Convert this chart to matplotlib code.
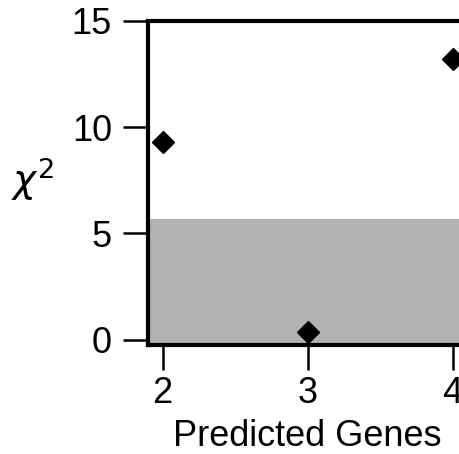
import matplotlib
matplotlib.use("Agg")
import matplotlib.pyplot as plt

genes = [2, 3, 4]
chi2 = [9.3, 0.38, 13.2]
threshold = 5.7
yticks = [0, 5, 10, 15]

plt.rcParams['font.family'] = ['Liberation Sans', 'DejaVu Sans']
plt.rcParams['mathtext.fontset'] = 'dejavusans'

fig = plt.figure(figsize=(4.59, 4.54), dpi=100)
W, H = 459, 454
left, right = 148, 467
top, bottom = 21, 345
ax = fig.add_axes([left / W, 1 - bottom / H, (right - left) / W, (bottom - top) / H])

ax.set_xlim(1.9, 4.1)
ax.set_ylim(-0.25, 15)
ax.axhspan(-0.25, threshold, color='#b2b2b2', lw=0, zorder=0)
ax.plot(genes, chi2, linestyle='none', marker='D', ms=11, color='black', zorder=3)

ax.set_xticks(genes)
ax.set_yticks(yticks)
ax.tick_params(axis='both', direction='out', length=18, width=1.8, labelsize=26, color='black')
ax.tick_params(axis='y', pad=8)
ax.tick_params(axis='x', pad=4)
for s in ax.spines.values():
    s.set_linewidth(3)

ax.set_xlabel('Predicted Genes', fontsize=26, labelpad=6)
fig.text(33 / W, 1 - 179 / H, r'$\chi^2$', fontsize=28, ha='center', va='center')

fig.savefig('out.png', dpi=100)
